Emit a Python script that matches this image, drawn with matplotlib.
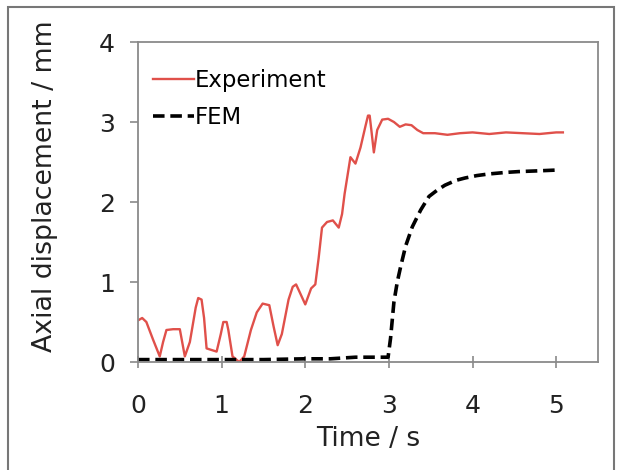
import matplotlib
matplotlib.use('Agg')
import matplotlib.pyplot as plt
from matplotlib.patches import Rectangle

t_exp = [0, 0.05, 0.1, 0.18, 0.26, 0.30, 0.34, 0.42, 0.50, 0.56,
         0.62, 0.69, 0.72, 0.76, 0.79, 0.82, 0.94, 0.99, 1.02, 1.06, 1.08, 1.13,
         1.21, 1.27, 1.35, 1.42, 1.49, 1.57, 1.62, 1.67, 1.72, 1.80,
         1.85, 1.89, 1.93, 2.00, 2.07, 2.12, 2.16, 2.20, 2.26, 2.33, 2.40,
         2.44, 2.47, 2.54, 2.60, 2.66, 2.72, 2.75, 2.77, 2.79, 2.82, 2.86,
         2.92, 2.99, 3.06, 3.13, 3.20, 3.27, 3.34, 3.41, 3.55, 3.7,
         3.85, 4.0, 4.2, 4.4, 4.6, 4.8, 5.0, 5.08]
d_exp = [0.52, 0.55, 0.50, 0.28, 0.07, 0.25, 0.40, 0.41, 0.41, 0.07,
         0.25, 0.68, 0.80, 0.78, 0.55, 0.17, 0.13, 0.35, 0.50, 0.50, 0.40, 0.07,
         0.0, 0.07, 0.40, 0.62, 0.73, 0.71, 0.45, 0.21, 0.35, 0.78,
         0.94, 0.97, 0.88, 0.72, 0.92, 0.97, 1.30, 1.68, 1.75, 1.77, 1.68,
         1.85, 2.10, 2.56, 2.48, 2.68, 2.95, 3.08, 3.08, 2.90, 2.62, 2.90,
         3.03, 3.04, 3.00, 2.94, 2.97, 2.96, 2.90, 2.86, 2.86, 2.84,
         2.86, 2.87, 2.85, 2.87, 2.86, 2.85, 2.87, 2.87]

# FEM curve
t_fem = [0, 0.5, 1.0, 1.5, 2.0, 2.3, 2.6, 2.99, 3.02, 3.06,
         3.10, 3.14, 3.20, 3.28, 3.38, 3.48, 3.58, 3.67, 3.80, 3.91,
         4.05, 4.19, 4.4, 4.55, 4.8, 5.02]
d_fem = [0.03, 0.03, 0.03, 0.03, 0.04, 0.04, 0.06, 0.06, 0.30, 0.75,
         1.00, 1.19, 1.45, 1.69, 1.90, 2.07, 2.15, 2.21, 2.27, 2.30,
         2.33, 2.35, 2.37, 2.38, 2.39, 2.40]

x_ticks = [0, 1, 2, 3, 4, 5]
y_ticks = [0, 1, 2, 3, 4]

plt.rcParams['font.family'] = ['DejaVu Sans']

fig = plt.figure(figsize=(6.22, 4.70), dpi=100)
ax = fig.add_axes([138 / 622, 1 - 362 / 470, 460 / 622, 320 / 470])

ax.plot(t_exp, d_exp, color='#e0504a', linewidth=1.7, label='Experiment')
ax.plot(t_fem, d_fem, color='black', linewidth=2.6, linestyle=(0, (3.2, 1.6)),
        label='FEM')

ax.set_xlim(0, 5.5)
ax.set_ylim(0, 4)
ax.set_xticks(x_ticks)
ax.set_yticks(y_ticks)

for s in ax.spines.values():
    s.set_color('#8a8a8a')
    s.set_linewidth(1.3)

ax.tick_params(axis='x', direction='inout', length=8, width=1.2, color='#8a8a8a',
               labelsize=18, pad=19, labelcolor='#222222')
ax.tick_params(axis='y', direction='out', length=5.5, width=1.2, color='#8a8a8a',
               labelsize=18, pad=11, labelcolor='#222222')

ax.set_xlabel('Time / s', fontsize=19, color='#222222', labelpad=6)
ax.set_ylabel('Axial displacement / mm', fontsize=19.3, color='#222222')
ax.yaxis.set_label_coords(-0.174, 0.55)

ax.legend(loc='upper left', bbox_to_anchor=(0.032, 0.915), frameon=False,
          fontsize=16.4, handlelength=1.8, handletextpad=0.05, labelspacing=0.6,
          borderpad=0, borderaxespad=0)

# grey frame around the whole figure
fig.add_artist(Rectangle((8 / 622, -0.05), 606 / 622, 1.05 - 7 / 470,
                         transform=fig.transFigure, fill=False,
                         edgecolor='#777777', linewidth=1.5))

fig.savefig('out.png', dpi=100)
